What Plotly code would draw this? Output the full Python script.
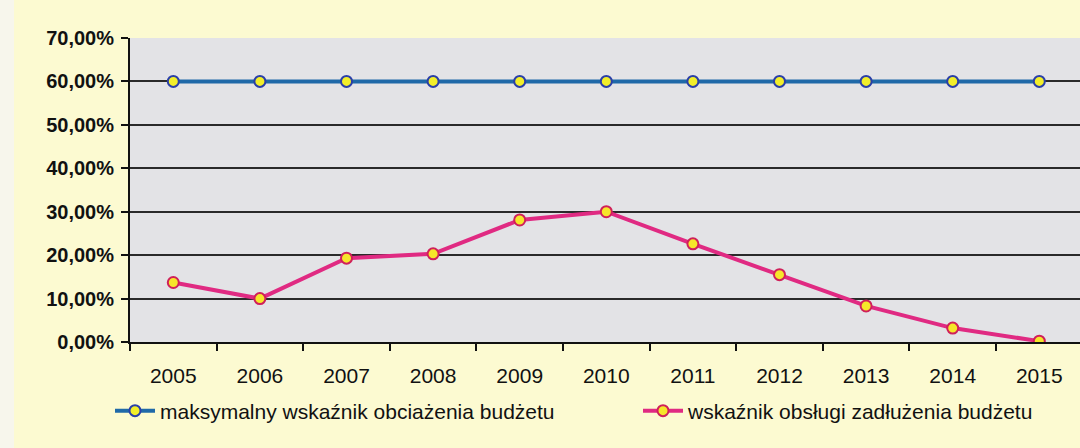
import plotly.graph_objects as go

years = ["2005", "2006", "2007", "2008", "2009", "2010", "2011", "2012", "2013", "2014", "2015"]
max_wskaznik = [0.60, 0.60, 0.60, 0.60, 0.60, 0.60, 0.60, 0.60, 0.60, 0.60, 0.60]
obsluga_zadluzenia = [0.137, 0.100, 0.193, 0.203, 0.281, 0.300, 0.226, 0.155, 0.083, 0.032, 0.002]
y_ticks = [0, 0.1, 0.2, 0.3, 0.4, 0.5, 0.6, 0.7]

name1 = "maksymalny wskaźnik obciażenia budżetu"
name2 = "wskaźnik obsługi zadłużenia budżetu"

W, H = 1080, 448
L, R, T, B = 130, 0, 38, 106
PW, PH = W - L - R, H - T - B


def px_x(px):
    return (px - L) / PW


def px_y(py):
    return (H - B - py) / PH


fig = go.Figure()
fig.add_trace(go.Scatter(
    x=years, y=max_wskaznik, name=name1, mode="lines+markers", legend="legend",
    line=dict(color="#1f69a8", width=4),
    marker=dict(size=11, color="#f2ee2a", line=dict(color="#2a3fa8", width=2)),
))
fig.add_trace(go.Scatter(
    x=years, y=obsluga_zadluzenia, name=name2, mode="lines+markers", legend="legend2",
    line=dict(color="#e02a82", width=4),
    marker=dict(size=11, color="#f6e62a", line=dict(color="#d0205a", width=2)),
))

leg_common = dict(
    orientation="h", xanchor="left", yanchor="middle",
    font=dict(size=21, color="#111111"), bgcolor="rgba(0,0,0,0)",
    itemwidth=40,
)

fig.update_layout(
    width=W, height=H,
    separators=", ",
    paper_bgcolor="#fcfad1",
    plot_bgcolor="#e3e3e6",
    margin=dict(l=L, r=R, t=T, b=B, autoexpand=False, pad=0),
    font=dict(family="Liberation Sans, Arial, sans-serif", color="#111111"),
    showlegend=True,
    legend=dict(x=px_x(110), y=px_y(411), **leg_common),
    legend2=dict(x=px_x(638), y=px_y(411), **leg_common),
    shapes=[dict(
        type="rect", xref="paper", yref="paper",
        x0=px_x(0), x1=px_x(14), y0=px_y(448), y1=px_y(0),
        fillcolor="#f7f6ec", line=dict(width=0), layer="below",
    )],
)
fig.update_xaxes(
    type="category", range=[-0.5, 10.47],
    showline=True, linecolor="#111111", linewidth=2,
    ticks="outside", ticklen=7, tickwidth=2, tickcolor="#111111",
    tickson="boundaries", showgrid=False,
    ticklabelstandoff=14,
    tickfont=dict(size=21, color="#111111"),
)
fig.update_yaxes(
    range=[0, 0.7], tickvals=y_ticks, tickformat=".2%",
    showline=True, linecolor="#111111", linewidth=2,
    ticks="outside", ticklen=7, tickwidth=2, tickcolor="#111111",
    showgrid=True, gridcolor="#2a2a2a", gridwidth=2,
    zeroline=False, ticklabelstandoff=3,
    tickfont=dict(size=20, color="#111111", weight="bold"),
)

fig.write_html(
    "out.html",
    config={"displayModeBar": False},
    post_script="document.body.style.margin='0';document.body.style.padding='0';",
)
